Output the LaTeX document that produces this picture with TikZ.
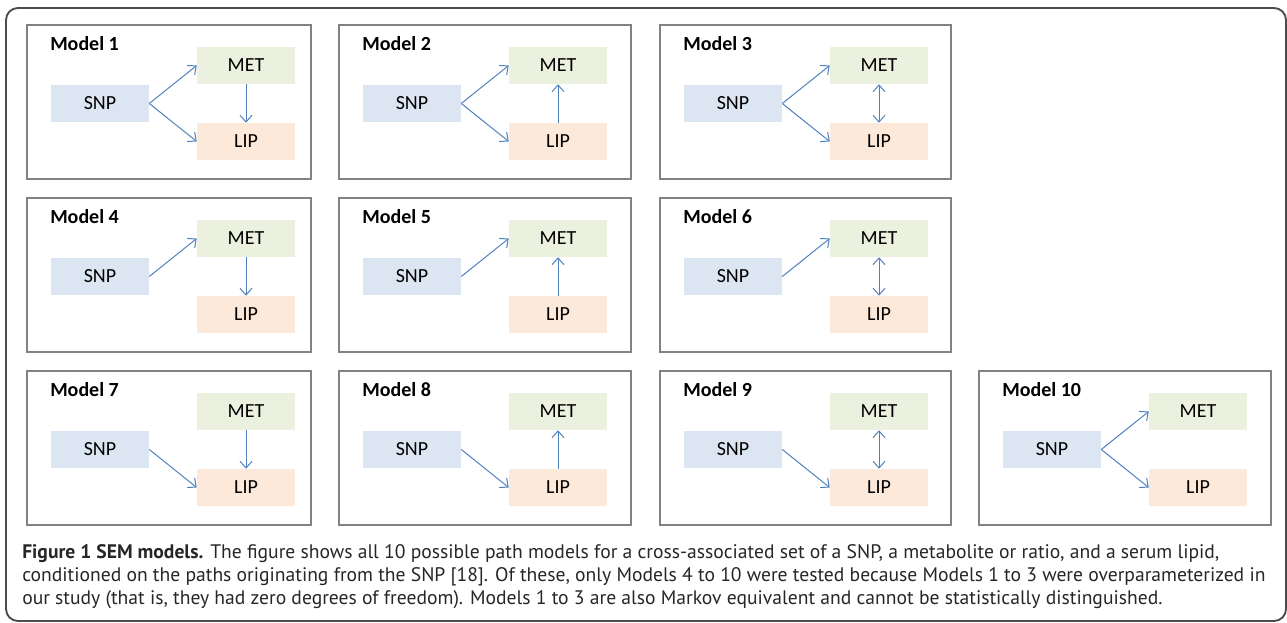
\documentclass[tikz,border=0pt]{standalone}
\usepackage{fontspec}
\setmainfont{Carlito}
\newfontfamily\capfont{PT Sans}
\usetikzlibrary{arrows.meta}
\definecolor{snpfill}{RGB}{220,230,242}
\definecolor{metfill}{RGB}{235,241,222}
\definecolor{lipfill}{RGB}{253,233,217}
\definecolor{pathblue}{RGB}{79,129,189}
\definecolor{framegray}{RGB}{130,130,130}
\tikzset{
  varbox/.style={minimum width=73.5pt,minimum height=27.75pt,inner sep=0pt,font=\fontsize{15}{18}\selectfont},
  snpbox/.style={varbox,fill=snpfill},
  metbox/.style={varbox,fill=metfill},
  lipbox/.style={varbox,fill=lipfill},
  link/.style={draw=pathblue,line width=0.75pt,-{Straight Barb[length=5pt,width=9pt]}},
  mutual/.style={link,{Straight Barb[length=5pt,width=9pt]}-{Straight Barb[length=5pt,width=9pt]}},
  modelframe/.style={draw=framegray,line width=1.1pt}
}
% one panel: id, left, top, width, title
\newcommand{\modelpanel}[5]{%
  \draw[modelframe] (#2,#3) rectangle ++(#4,154);
  \node[anchor=west,inner sep=0pt,font=\bfseries\fontsize{15}{18}\selectfont] (title#1) at ({#2+23},{#3+19}) {#5};
  \node[snpbox] (snp#1) at ({#2+73},{#3+78.5}) {SNP};
  \node[metbox] (met#1) at ({#2+219},{#3+40.5}) {MET};
  \node[lipbox] (lip#1) at ({#2+219},{#3+116.5}) {LIP};
}
\begin{document}
\begin{tikzpicture}[x=0.75pt,y=-0.75pt]
    \useasboundingbox (0,0) rectangle (1287,623);
    \draw[black!70,line width=1.4pt,rounded corners=9pt] (6,8) rectangle (1286,621);
    %% Panels
    \modelpanel{1}{27}{25}{284}{Model 1}
    \modelpanel{2}{339}{25}{292}{Model 2}
    \modelpanel{3}{660}{25}{291}{Model 3}
    \modelpanel{4}{27}{198}{284}{Model 4}
    \modelpanel{5}{339}{198}{292}{Model 5}
    \modelpanel{6}{660}{198}{291}{Model 6}
    \modelpanel{7}{27}{371}{284}{Model 7}
    \modelpanel{8}{339}{371}{292}{Model 8}
    \modelpanel{9}{660}{371}{291}{Model 9}
    \modelpanel{10}{979}{371}{292}{Model 10}
    %% Paths
    \foreach \m in {1,2,3,4,5,6,10}
        \draw[link] (snp\m.east) -- (met\m.west);
    \foreach \m in {1,2,3,7,8,9,10}
        \draw[link] (snp\m.east) -- (lip\m.west);
    \foreach \m in {1,4,7}
        \draw[link] (met\m.south) -- (lip\m.north);
    \foreach \m in {2,5,8}
        \draw[link] (lip\m.north) -- (met\m.south);
    \foreach \m in {3,6,9}
        \draw[mutual] (met\m.south) -- (lip\m.north);
    %% Caption
    \node[anchor=north west,align=left,inner sep=0pt,text=black!85,
          font=\capfont\fontsize{14.7}{17.25}\selectfont] (caption) at (22,544)
        {\textbf{Figure 1 SEM models.} The figure shows all 10 possible path models for a cross-associated set of a SNP, a metabolite or ratio, and a serum lipid,\\
         conditioned on the paths originating from the SNP [18]. Of these, only Models 4 to 10 were tested because Models 1 to 3 were overparameterized in\\
         our study (that is, they had zero degrees of freedom). Models 1 to 3 are also Markov equivalent and cannot be statistically distinguished.};
\end{tikzpicture}
\end{document}
